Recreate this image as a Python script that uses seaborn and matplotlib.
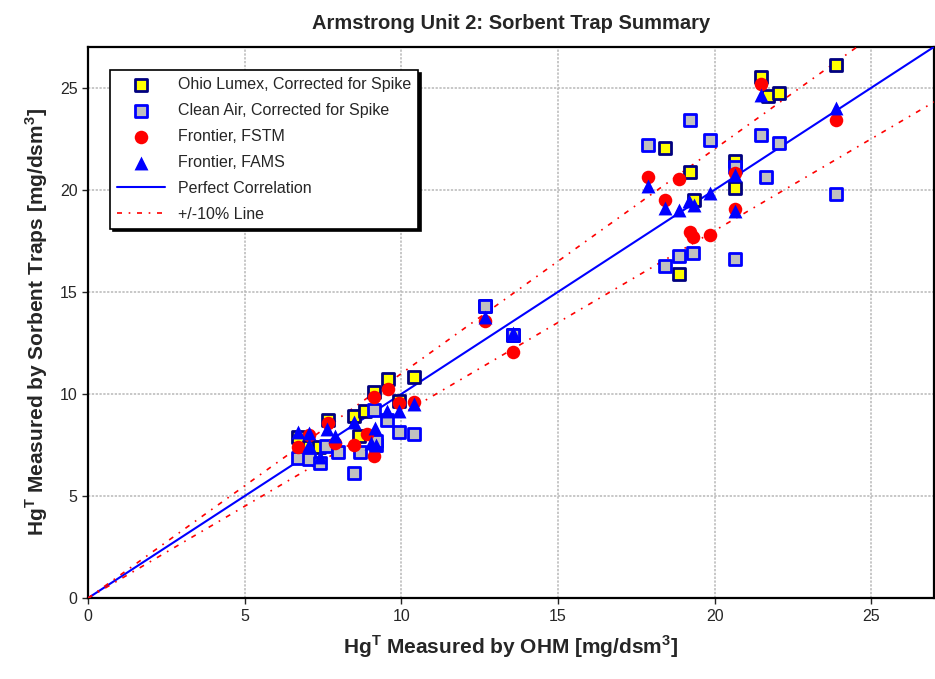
import numpy as np
import pandas as pd
import matplotlib
matplotlib.use('Agg')
import matplotlib.pyplot as plt
import seaborn as sns

# OHM (x) vs sorbent trap (y) values
lumex_x = [6.70, 7.05, 7.39, 7.65, 8.50, 8.66, 8.85, 9.14, 9.59, 9.94, 10.41, 12.66, 13.57,
           18.43, 18.87, 19.22, 19.33, 20.64, 20.64, 21.48, 21.70, 22.04, 23.87]
lumex_y = [7.88, 7.39, 7.39, 8.73, 8.92, 7.94, 9.18, 10.11, 10.73, 9.67, 10.82, 14.30, 12.90,
           22.07, 15.90, 20.85, 19.50, 21.40, 20.10, 25.50, 24.60, 24.74, 26.10]

cleanair_x = [6.70, 7.05, 7.41, 7.60, 7.99, 8.50, 8.69, 9.14, 9.19, 9.19, 9.56, 9.94, 10.39,
              12.66, 13.57, 17.87, 18.43, 18.87, 19.22, 19.30, 19.86, 20.64, 20.66, 21.48,
              21.64, 22.04, 23.87]
cleanair_y = [6.85, 6.81, 6.60, 7.45, 7.14, 6.14, 7.14, 9.20, 7.50, 7.70, 8.73, 8.12, 8.04,
              14.30, 12.90, 22.20, 16.27, 16.76, 23.40, 16.90, 22.42, 21.10, 16.60, 22.70,
              20.65, 22.30, 19.80]

fstm_x = [6.70, 7.05, 7.65, 7.90, 8.50, 8.90, 9.12, 9.14, 9.59, 9.94, 10.41, 12.66, 13.57,
          17.87, 18.43, 18.87, 19.22, 19.30, 19.86, 20.64, 20.66, 21.48, 23.87]
fstm_y = [7.42, 7.99, 8.56, 7.58, 7.50, 8.04, 6.96, 9.84, 10.23, 9.54, 9.62, 13.58, 12.07,
          20.65, 19.50, 20.54, 17.91, 17.68, 17.81, 20.80, 19.05, 25.18, 23.40]

fams_x = [6.70, 7.05, 7.05, 7.42, 7.63, 7.87, 8.50, 9.03, 9.17, 9.19, 9.56, 9.94, 10.41,
          12.66, 13.57, 17.87, 18.43, 18.87, 19.19, 19.33, 19.86, 20.64, 20.66, 21.48, 23.87]
fams_y = [8.15, 8.07, 7.50, 6.93, 8.27, 7.94, 8.64, 7.58, 8.32, 7.50, 9.18, 9.18, 9.51,
          13.76, 12.97, 20.17, 19.10, 18.99, 19.43, 19.24, 19.84, 20.74, 18.95, 24.66, 24.00]

line_x = np.array([0, 27])
band = 0.10

sns.set_style('ticks')
plt.rcParams['font.family'] = ['Liberation Sans', 'DejaVu Sans']
plt.rcParams['mathtext.fontset'] = 'custom'
plt.rcParams['mathtext.rm'] = 'Liberation Sans'
plt.rcParams['mathtext.bf'] = 'Liberation Sans:bold'

fig = plt.figure(figsize=(9.35, 6.79), dpi=100)
ax = fig.add_axes([0.094, 0.119, 0.905, 0.812])

# reference lines
sns.lineplot(x=line_x, y=line_x, color='#0000ff', lw=1.5, ax=ax,
             label='Perfect Correlation', zorder=3)
sns.lineplot(x=line_x, y=line_x * (1 + band), color='red', lw=1.2,
             linestyle=(0, (3, 4, 1, 4)), ax=ax, label='+/-10% Line', zorder=3)
sns.lineplot(x=line_x, y=line_x * (1 - band), color='red', lw=1.2,
             linestyle=(0, (3, 4, 1, 4)), ax=ax, zorder=3)

sns.scatterplot(x=lumex_x, y=lumex_y, marker='s', s=80, color='#ffff00',
                edgecolor='#000080', linewidth=2, ax=ax, zorder=4,
                label='Ohio Lumex, Corrected for Spike')
sns.scatterplot(x=cleanair_x, y=cleanair_y, marker='s', s=80, color='#c0c0c0',
                edgecolor='#0000ff', linewidth=2, ax=ax, zorder=4,
                label='Clean Air, Corrected for Spike')
sns.scatterplot(x=fstm_x, y=fstm_y, marker='o', s=95, color='red',
                edgecolor='red', linewidth=0, ax=ax, zorder=5,
                label='Frontier, FSTM')
sns.scatterplot(x=fams_x, y=fams_y, marker='^', s=100, color='#0000ff',
                edgecolor='#0000ff', linewidth=0, ax=ax, zorder=6,
                label='Frontier, FAMS')

ax.set_xlim(0, 27)
ax.set_ylim(0, 27)
ax.set_xticks([0, 5, 10, 15, 20, 25])
ax.set_yticks([0, 5, 10, 15, 20, 25])
ax.grid(True, color='#b8b8b8', linestyle=(0, (1.5, 1)), lw=1.1)
ax.set_axisbelow(True)
for sp in ax.spines.values():
    sp.set_color('black')
    sp.set_linewidth(1.6)
ax.tick_params(labelsize=11.5, length=4, width=1)

ax.set_title('Armstrong Unit 2: Sorbent Trap Summary', fontsize=14.5,
             fontweight='bold', pad=13)
ax.set_xlabel(r'Hg$^{\mathbf{T}}$ Measured by OHM [mg/dsm$^{\mathbf{3}}$]',
              fontsize=15, fontweight='bold', labelpad=7)
ax.set_ylabel(r'Hg$^{\mathbf{T}}$ Measured by Sorbent Traps [mg/dsm$^{\mathbf{3}}$]',
              fontsize=15, fontweight='bold', labelpad=7)

handles, labels = ax.get_legend_handles_labels()
order = ['Ohio Lumex, Corrected for Spike', 'Clean Air, Corrected for Spike',
         'Frontier, FSTM', 'Frontier, FAMS', 'Perfect Correlation', '+/-10% Line']
hmap = dict(zip(labels, handles))
leg = ax.legend([hmap[k] for k in order], order, loc='upper left',
                bbox_to_anchor=(0.026, 0.958), borderaxespad=0, fontsize=11.5,
                frameon=True, fancybox=False, edgecolor='black',
                shadow={'color': 'black', 'alpha': 1}, framealpha=1,
                handlelength=3, labelspacing=0.68, borderpad=0.45)
leg.get_frame().set_linewidth(1.2)

fig.savefig('out.png', dpi=100)
